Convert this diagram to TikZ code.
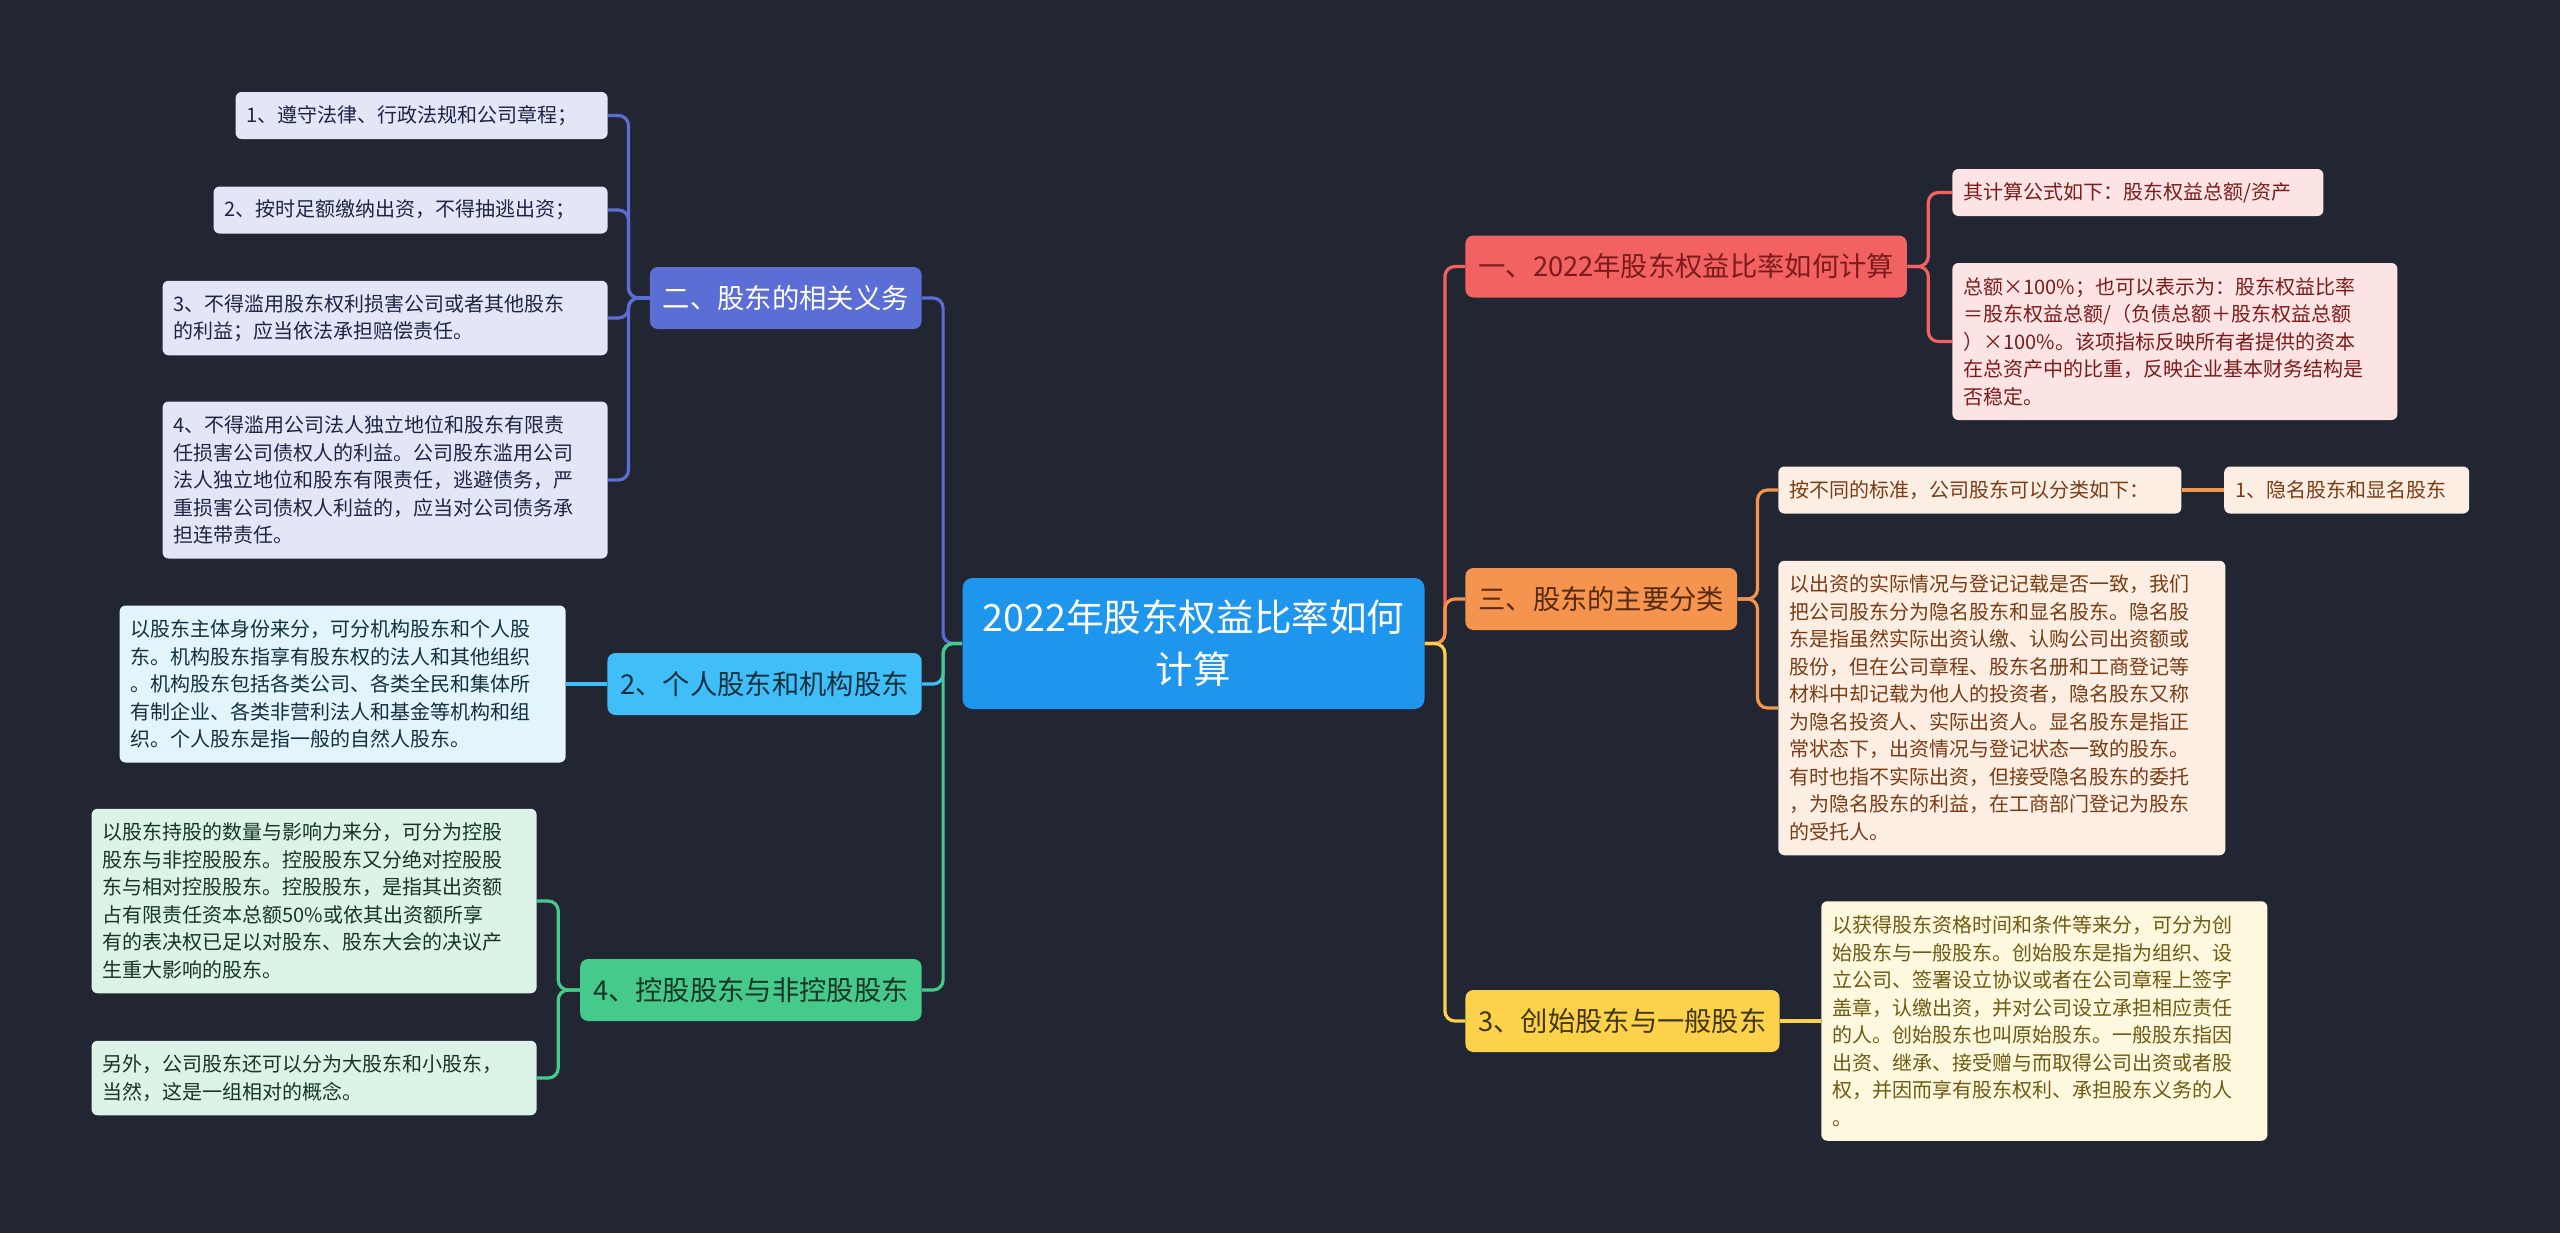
\documentclass[tikz,border=0pt]{standalone}
\usepackage{fontspec}
\setmainfont{Noto Sans CJK SC}
\usepackage{tikz}
\usetikzlibrary{positioning}
\setlength{\parindent}{0pt}

\definecolor{bgdark}{HTML}{222632}
\definecolor{rootblue}{HTML}{1E96EE}
\definecolor{dutyblue}{HTML}{5A6ED5}
\definecolor{dutyfill}{HTML}{E3E6F7}
\definecolor{dutytext}{HTML}{1F2444}
\definecolor{typecyan}{HTML}{40BEF7}
\definecolor{typefill}{HTML}{E2F5FD}
\definecolor{typetext}{HTML}{12303F}
\definecolor{ctrlgreen}{HTML}{46CA8C}
\definecolor{ctrlfill}{HTML}{DCF4E7}
\definecolor{ctrltext}{HTML}{153525}
\definecolor{calcred}{HTML}{F26262}
\definecolor{calcfill}{HTML}{FDE4E4}
\definecolor{calctext}{HTML}{7D1B1B}
\definecolor{classorange}{HTML}{F5944F}
\definecolor{classfill}{HTML}{FDEEE4}
\definecolor{classtext}{HTML}{7A3C14}
\definecolor{foundyellow}{HTML}{FBD24A}
\definecolor{foundfill}{HTML}{FEF8DE}
\definecolor{foundtext}{HTML}{6E5A12}

\tikzset{
	branch/.style={rectangle, rounded corners=4pt, inner xsep=6.5pt, inner ysep=0pt, minimum height=31pt, font=\fontsize{13.65}{16}\selectfont},
	leaf/.style={rectangle, rounded corners=3pt, inner xsep=5.5pt, inner ysep=0pt, align=left, font=\fontsize{10}{13.75}\selectfont},
	nlines/.style={minimum height={23.5pt+(#1-1)*13.75pt}},
	link/.style={line width=1.6pt, rounded corners=5pt},
	dutyleaf/.style={leaf, fill=dutyfill, text=dutytext},
	typeleaf/.style={leaf, fill=typefill, text=typetext},
	ctrlleaf/.style={leaf, fill=ctrlfill, text=ctrltext},
	calcleaf/.style={leaf, fill=calcfill, text=calctext},
	classleaf/.style={leaf, fill=classfill, text=classtext},
	foundleaf/.style={leaf, fill=foundfill, text=foundtext}
}

\begin{document}
\begin{tikzpicture}[x=0.5pt, y=-0.5pt]
	\fill[bgdark] (0,0) rectangle (2560,1233);
	\useasboundingbox (0,0) rectangle (2560,1233);

	\node[rectangle, rounded corners=5pt, fill=rootblue, text=white, align=center, minimum width=231pt, minimum height=65.5pt, font=\fontsize{18.8}{26}\selectfont] (root) at (1193.5,643.5) {2022年股东权益比率如何\\计算};

	% left side
	\node[branch, fill=dutyblue, text=white, anchor=east] (duty) at (922,298) {二、股东的相关义务};
	\node[branch, fill=typecyan, text=typetext, anchor=east] (types) at (922,684) {2、个人股东和机构股东};
	\node[branch, fill=ctrlgreen, text=ctrltext, anchor=east] (ctrl) at (922,990) {4、控股股东与非控股股东};

	\node[dutyleaf, nlines=1, text width=175pt, anchor=east] (duty1) at (608,115.5) {1、遵守法律、行政法规和公司章程；};
	\node[dutyleaf, nlines=1, text width=186pt, anchor=east] (duty2) at (608,210) {2、按时足额缴纳出资，不得抽逃出资；};
	\node[dutyleaf, nlines=2, text width=211.5pt, anchor=east] (duty3) at (608,318) {3、不得滥用股东权利损害公司或者其他股东\\的利益；应当依法承担赔偿责任。};
	\node[dutyleaf, nlines=5, text width=211.5pt, anchor=east] (duty4) at (608,480) {4、不得滥用公司法人独立地位和股东有限责\\任损害公司债权人的利益。公司股东滥用公司\\法人独立地位和股东有限责任，逃避债务，严\\重损害公司债权人利益的，应当对公司债务承\\担连带责任。};

	\node[typeleaf, nlines=5, text width=212pt, left=20.5pt of types] (types1) {以股东主体身份来分，可分机构股东和个人股\\东。机构股东指享有股东权的法人和其他组织\\。机构股东包括各类公司、各类全民和集体所\\有制企业、各类非营利法人和基金等机构和组\\织。个人股东是指一般的自然人股东。};

	\node[ctrlleaf, nlines=6, text width=211.5pt, anchor=east] (ctrl1) at (537,901) {以股东持股的数量与影响力来分，可分为控股\\股东与非控股股东。控股股东又分绝对控股股\\东与相对控股股东。控股股东，是指其出资额\\占有限责任资本总额50\%或依其出资额所享\\有的表决权已足以对股东、股东大会的决议产\\生重大影响的股东。};
	\node[ctrlleaf, nlines=2, text width=211.5pt, anchor=east] (ctrl2) at (537,1078) {另外，公司股东还可以分为大股东和小股东，\\当然，这是一组相对的概念。};

	% right side
	\node[branch, fill=calcred, text=calctext, anchor=west] (calc) at (1465,266.5) {一、2022年股东权益比率如何计算};
	\node[branch, fill=classorange, text=classtext!70!black, anchor=west] (class) at (1465,599) {三、股东的主要分类};
	\node[branch, fill=foundyellow, text=foundtext!60!black, anchor=west] (found) at (1465,1021) {3、创始股东与一般股东};

	\node[calcleaf, nlines=1, text width=174.5pt, anchor=west] (calc1) at (1952,192.5) {其计算公式如下：股东权益总额/资产};
	\node[calcleaf, nlines=5, text width=211.5pt, anchor=west] (calc2) at (1952,341.5) {总额×100\%；也可以表示为：股东权益比率\\＝股东权益总额/（负债总额＋股东权益总额\\）×100\%。该项指标反映所有者提供的资本\\在总资产中的比重，反映企业基本财务结构是\\否稳定。};

	\node[classleaf, nlines=1, text width=190.5pt, anchor=west] (class1) at (1778,490) {按不同的标准，公司股东可以分类如下：};
	\node[classleaf, nlines=1, text width=111.5pt, right=21pt of class1] (hidden) {1、隐名股东和显名股东};
	\node[classleaf, nlines=10, text width=212.5pt, anchor=west] (class2) at (1778,708) {以出资的实际情况与登记记载是否一致，我们\\把公司股东分为隐名股东和显名股东。隐名股\\东是指虽然实际出资认缴、认购公司出资额或\\股份，但在公司章程、股东名册和工商登记等\\材料中却记载为他人的投资者，隐名股东又称\\为隐名投资人、实际出资人。显名股东是指正\\常状态下，出资情况与登记状态一致的股东。\\有时也指不实际出资，但接受隐名股东的委托\\，为隐名股东的利益，在工商部门登记为股东\\的受托人。};

	\node[foundleaf, nlines=8, text width=212pt, right=20.5pt of found] (found1) {以获得股东资格时间和条件等来分，可分为创\\始股东与一般股东。创始股东是指为组织、设\\立公司、签署设立协议或者在公司章程上签字\\盖章，认缴出资，并对公司设立承担相应责任\\的人。创始股东也叫原始股东。一般股东指因\\出资、继承、接受赠与而取得公司出资或者股\\权，并因而享有股东权利、承担股东义务的人\\。};

	% root to branches
	\path [link, draw=dutyblue] (root.west) -- ++(-19,0) |- (duty.east);
	\path [link, draw=typecyan] (root.west) -- ++(-19,0) |- (types.east);
	\path [link, draw=ctrlgreen] (root.west) -- ++(-19,0) |- (ctrl.east);
	\path [link, draw=calcred] (root.east) -- ++(20,0) |- (calc.west);
	\path [link, draw=classorange] (root.east) -- ++(20,0) |- (class.west);
	\path [link, draw=foundyellow] (root.east) -- ++(20,0) |- (found.west);

	% branches to leaves
	\foreach \leafname in {duty1,duty2,duty3,duty4}
		\path [link, draw=dutyblue] (duty.west) -- ++(-21,0) |- (\leafname.east);
	\path [link, draw=typecyan] (types.west) -- (types1.east);
	\foreach \leafname in {ctrl1,ctrl2}
		\path [link, draw=ctrlgreen] (ctrl.west) -- ++(-21.5,0) |- (\leafname.east);
	\foreach \leafname in {calc1,calc2}
		\path [link, draw=calcred] (calc.east) -- ++(21,0) |- (\leafname.west);
	\foreach \leafname in {class1,class2}
		\path [link, draw=classorange] (class.east) -- ++(20,0) |- (\leafname.west);
	\path [link, draw=classorange] (class1.east) -- (hidden.west);
	\path [link, draw=foundyellow] (found.east) -- (found1.west);
\end{tikzpicture}
\end{document}
